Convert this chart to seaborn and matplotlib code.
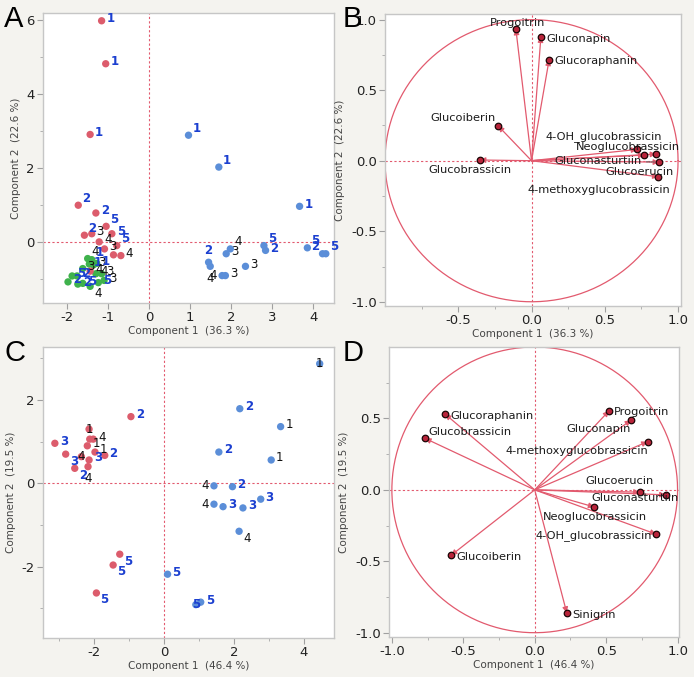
import matplotlib
matplotlib.use("Agg")
import matplotlib.pyplot as plt
import seaborn as sns
import pandas as pd
import numpy as np
from matplotlib.ticker import MultipleLocator

# ---------------- data ----------------
# Panel A scores
A_red_x = [-1.16, -1.06, -1.44, -1.73, -1.30, -1.05, -0.91, -1.58, -0.79, -1.09, -0.87, -0.69, -1.40, -1.22, -1.44]
A_red_y = [5.97, 4.81, 2.90, 0.99, 0.78, 0.42, 0.22, 0.18, -0.10, -0.19, -0.35, -0.37, 0.22, 0.00, -0.79]
A_red_lab = ['1', '1', '1', '2', '2', '5', '5', '2', '5', '3', '', '4', '3', '4', '4']

A_blue_x = [0.96, 1.70, 3.67, 3.86, 4.23, 4.31, 2.80, 2.84, 1.98, 1.88, 1.45, 1.49, 1.78, 1.86, 2.35]
A_blue_y = [2.88, 2.02, 0.96, -0.16, -0.32, -0.32, -0.10, -0.23, -0.19, -0.32, -0.55, -0.66, -0.91, -0.91, -0.66]
A_blue_lab = ['1', '1', '1', '5', '2', '5', '5', '2', '4', '3', '2', '4', '4', '3', '3']

A_green_x = [-1.50, -1.40, -1.46, -1.36, -1.28, -1.62, -1.30, -1.16, -1.88, -1.76, -1.98, -1.74, -1.62, -1.44, -1.24, -1.10]
A_green_y = [-0.45, -0.48, -0.60, -0.62, -0.58, -0.72, -0.86, -0.86, -0.92, -0.92, -1.08, -1.14, -1.12, -1.20, -1.10, -1.04]
A_green_lab = ['4', '1', '1', '3', '1', '3', '4', '3', '5', '2', '2', '2', '5', '4', '5', '3']

# Panel C scores
C_red_x = [-3.13, -2.82, -2.56, -2.15, -2.13, -2.03, -2.20, -1.98, -2.37, -2.15, -1.70, -0.95, -1.27, -1.46, -1.94, -2.18]
C_red_y = [0.96, 0.70, 0.36, 1.30, 1.06, 1.06, 0.90, 0.75, 0.64, 0.56, 0.67, 1.60, -1.70, -1.96, -2.63, 0.40]
C_red_lab = ['3', '3', '2', '1', '', '4', '1', '1', '4', '3', '2', '2', '5', '5', '5', '4']

C_blue_x = [4.46, 2.17, 3.34, 3.07, 1.57, 1.43, 1.96, 1.43, 1.69, 2.26, 2.77, 2.15, 0.10, 0.91, 1.05]
C_blue_y = [2.87, 1.79, 1.36, 0.56, 0.75, -0.06, -0.08, -0.50, -0.56, -0.59, -0.38, -1.15, -2.18, -2.91, -2.85]
C_blue_lab = ['1', '2', '1', '1', '2', '4', '2', '4', '3', '3', '3', '4', '5', '5', '5']

# Panel B loadings
B_names = ['Progoitrin', 'Gluconapin', 'Glucoraphanin', 'Glucoiberin', 'Glucobrassicin',
           '4-OH_glucobrassicin', 'Neoglucobrassicin', 'Gluconasturtiin', 'Glucoerucin',
           '4-methoxyglucobrassicin']
B_x = [-0.107, 0.064, 0.12, -0.227, -0.352, 0.72, 0.85, 0.77, 0.866, 0.87]
B_y = [0.934, 0.88, 0.716, 0.246, 0.005, 0.08, 0.047, 0.04, -0.114, -0.01]

# Panel D loadings
D_names = ['Glucoraphanin', 'Glucobrassicin', 'Progoitrin', 'Gluconapin',
           '4-methoxyglucobrassicin', 'Glucoerucin', 'Gluconasturtiin',
           'Neoglucobrassicin', '4-OH_glucobrassicin', 'Glucoiberin', 'Sinigrin']
D_x = [-0.627, -0.767, 0.52, 0.674, 0.79, 0.734, 0.916, 0.417, 0.85, -0.585, 0.224]
D_y = [0.53, 0.36, 0.553, 0.488, 0.337, -0.016, -0.035, -0.12, -0.31, -0.458, -0.86]

# ---------------- label placement (styling) ----------------
B_lab_pos = {'Progoitrin': (-0.095, 0.976, 'center'), 'Gluconapin': (0.098, 0.863, 'left'),
             'Glucoraphanin': (0.155, 0.704, 'left'), 'Glucoiberin': (-0.466, 0.30, 'center'),
             'Glucobrassicin': (-0.418, -0.066, 'center'), '4-OH_glucobrassicin': (0.49, 0.17, 'center'),
             'Neoglucobrassicin': (0.655, 0.10, 'center'), 'Gluconasturtiin': (0.455, 0.0, 'center'),
             'Glucoerucin': (0.739, -0.078, 'center'), '4-methoxyglucobrassicin': (0.461, -0.209, 'center')}
B_leader = {'Gluconasturtiin': 9}   # name -> index of the loading its dotted leader points at
D_lab_pos = {'Glucoraphanin': (-0.592, 0.516, 'left'), 'Glucobrassicin': (-0.744, 0.407, 'left'),
             'Progoitrin': (0.556, 0.542, 'left'), 'Gluconapin': (0.445, 0.423, 'center'),
             '4-methoxyglucobrassicin': (0.296, 0.272, 'center'), 'Glucoerucin': (0.594, 0.063, 'center'),
             'Gluconasturtiin': (0.70, -0.058, 'center'), 'Neoglucobrassicin': (0.424, -0.19, 'center'),
             '4-OH_glucobrassicin': (0.413, -0.32, 'center'), 'Glucoiberin': (-0.55, -0.472, 'left'),
             'Sinigrin': (0.263, -0.877, 'left')}

OFF = {'r': (3.5, 1.5, 'left', 'center'), 'ur': (3, 5, 'left', 'center'),
       'l': (-3.5, 0, 'right', 'center'), 'u': (0, 4, 'center', 'bottom'),
       'd': (0, -4, 'center', 'top'), 'dr': (3, -5, 'left', 'center'),
       'ul': (-2, 5, 'right', 'center'), 'c': (0, 0, 'center', 'center')}

A_red_off = ['r', 'r', 'r', 'ur', 'r', 'ur', 'r', 'ur', 'ur', 'r', 'r', 'r', 'r', 'r', 'r']
A_blue_off = ['ur', 'ur', 'r', 'ur', 'ul', 'ur', 'ur', 'r', 'ur', 'r', 'u', 'd', 'l', 'r', 'r']
A_green_off = ['ur', 'ur', 'r', 'r', 'r', 'r', 'r', 'r', 'r', 'r', 'r', 'r', 'r', 'dr', 'r', 'r']
C_red_off = ['r', 'dr', 'dr', 'c', 'r', 'r', 'r', 'r', 'c', 'r', 'r', 'r', 'dr', 'dr', 'dr', 'd']
C_blue_off = ['c', 'r', 'r', 'r', 'r', 'l', 'r', 'l', 'r', 'r', 'r', 'dr', 'r', 'c', 'r']

A_labcol = {'1': '#1b3fd0', '2': '#1b3fd0', '5': '#1b3fd0', '3': '#111111', '4': '#111111'}
C_labcol = {'2': '#1b3fd0', '3': '#1b3fd0', '5': '#1b3fd0', '1': '#111111', '4': '#111111'}

RED = '#dc5c6c'
BLUE = '#5b8ed8'
GREEN = '#3fb24c'
LINE = '#e25a6e'
BG = '#f4f3ef'

# ---------------- style ----------------
sns.set_theme(style='white')
plt.rcParams['font.family'] = ['DejaVu Sans']
plt.rcParams['axes.unicode_minus'] = False

fig = plt.figure(figsize=(6.94, 6.77), dpi=100, facecolor=BG)
W, H = 694, 677


def mkax(l, t, r, b):
    return fig.add_axes([l / W, 1 - b / H, (r - l) / W, (b - t) / H])


axA = mkax(43, 13, 334, 303)
axB = mkax(385, 14, 681, 306)
axC = mkax(43, 347, 334, 638)
axD = mkax(389, 347, 679, 637)


def style(ax, xl, yl):
    ax.set_facecolor('white')
    for s in ax.spines.values():
        s.set_color('#c6c6c6')
        s.set_linewidth(1.0)
    ax.tick_params(axis='both', which='major', length=4, width=0.8, color='#a0a0a0',
                   labelsize=9.5, labelcolor='#222222', pad=2, left=True, bottom=True)
    ax.tick_params(axis='both', which='minor', length=2.5, width=0.7, color='#b0b0b0',
                   left=True, bottom=True)
    ax.set_xlabel(xl, fontsize=7.5, color='#444444', labelpad=1)
    ax.set_ylabel(yl, fontsize=7.5, color='#444444', labelpad=4)
    ax.axhline(0, color=LINE, lw=0.8, ls=(0, (2, 2)), zorder=1)
    ax.axvline(0, color=LINE, lw=0.8, ls=(0, (2, 2)), zorder=1)


def scores(ax, xs, ys, labs, offs, color, labcol):
    df = pd.DataFrame({'x': xs, 'y': ys})
    sns.scatterplot(data=df, x='x', y='y', ax=ax, color=color, s=28, edgecolor='none',
                    zorder=3, legend=False)
    for x, y, lab, o in zip(xs, ys, labs, offs):
        if not lab:
            continue
        dx, dy, ha, va = OFF[o]
        c = labcol[lab]
        ax.annotate(lab, (x, y), xytext=(dx, dy), textcoords='offset points', ha=ha, va=va,
                    fontsize=8.5, color=c, fontweight='bold' if c != '#111111' else 'normal',
                    zorder=4)


def loadings(ax, names, xs, ys, labpos, leaders=None):
    t = np.linspace(0, 2 * np.pi, 400)
    ax.plot(np.cos(t), np.sin(t), color=LINE, lw=0.9, zorder=2)
    for x, y in zip(xs, ys):
        ax.annotate('', xy=(x, y), xytext=(0, 0),
                    arrowprops=dict(arrowstyle='-|>', color=LINE, lw=0.9, shrinkA=0, shrinkB=0,
                                    mutation_scale=8), zorder=3)
    df = pd.DataFrame({'x': xs, 'y': ys})
    sns.scatterplot(data=df, x='x', y='y', ax=ax, color='#b8243a', s=22, edgecolor='#1a0505',
                    linewidth=0.9, zorder=4, legend=False)
    leaders = leaders or {}
    for n in names:
        lx, ly, ha = labpos[n]
        if n in leaders:
            i = leaders[n]
            ax.annotate(n, xy=(xs[i], ys[i]), xytext=(lx, ly), ha=ha, va='center',
                        fontsize=8.2, color='#1a1a1a', zorder=5,
                        arrowprops=dict(arrowstyle='-', color='#666666', lw=0.8,
                                        ls=(0, (1, 1)), shrinkA=1, shrinkB=3))
        else:
            ax.text(lx, ly, n, ha=ha, va='center', fontsize=8.2, color='#1a1a1a', zorder=5)


# Panel A
style(axA, 'Component 1  (36.3 %)', 'Component 2  (22.6 %)')
scores(axA, A_green_x, A_green_y, A_green_lab, A_green_off, GREEN, A_labcol)
scores(axA, A_red_x, A_red_y, A_red_lab, A_red_off, RED, A_labcol)
scores(axA, A_blue_x, A_blue_y, A_blue_lab, A_blue_off, BLUE, A_labcol)
axA.set_xlim(-2.59, 4.51)
axA.set_ylim(-1.65, 6.18)
axA.xaxis.set_major_locator(MultipleLocator(1))
axA.yaxis.set_major_locator(MultipleLocator(2))
axA.yaxis.set_minor_locator(MultipleLocator(1))

# Panel B
style(axB, 'Component 1  (36.3 %)', 'Component 2  (22.6 %)')
loadings(axB, B_names, B_x, B_y, B_lab_pos, B_leader)
axB.set_xlim(-1.0, 1.02)
axB.set_ylim(-1.03, 1.04)
axB.set_xticks([-0.5, 0.0, 0.5, 1.0])
axB.set_xticks([-0.75, -0.25, 0.25, 0.75], minor=True)
axB.set_yticks([-1.0, -0.5, 0.0, 0.5, 1.0])
axB.set_yticks([-0.75, -0.25, 0.25, 0.75], minor=True)

# Panel C
style(axC, 'Component 1  (46.4 %)', 'Component 2  (19.5 %)')
scores(axC, C_red_x, C_red_y, C_red_lab, C_red_off, RED, C_labcol)
scores(axC, C_blue_x, C_blue_y, C_blue_lab, C_blue_off, BLUE, C_labcol)
axC.set_xlim(-3.47, 4.87)
axC.set_ylim(-3.71, 3.27)
axC.xaxis.set_major_locator(MultipleLocator(2))
axC.xaxis.set_minor_locator(MultipleLocator(1))
axC.yaxis.set_major_locator(MultipleLocator(2))
axC.yaxis.set_minor_locator(MultipleLocator(1))

# Panel D
style(axD, 'Component 1  (46.4 %)', 'Component 2  (19.5 %)')
loadings(axD, D_names, D_x, D_y, D_lab_pos)
axD.set_xlim(-1.02, 1.01)
axD.set_ylim(-1.03, 1.0)
axD.set_xticks([-1.0, -0.5, 0.0, 0.5, 1.0])
axD.set_xticks([-0.75, -0.25, 0.25, 0.75], minor=True)
axD.set_yticks([-1.0, -0.5, 0.0, 0.5])
axD.set_yticks([-0.75, -0.25, 0.25, 0.75], minor=True)

# panel letters
for txt, x, y in [('A', 4, 5), ('B', 343, 5), ('C', 4, 339), ('D', 343, 339)]:
    fig.text(x / W, 1 - y / H, txt, fontsize=21, ha='left', va='top', color='black',
             family=['Liberation Sans', 'DejaVu Sans'])

fig.savefig('out.png', dpi=100, facecolor=BG)
